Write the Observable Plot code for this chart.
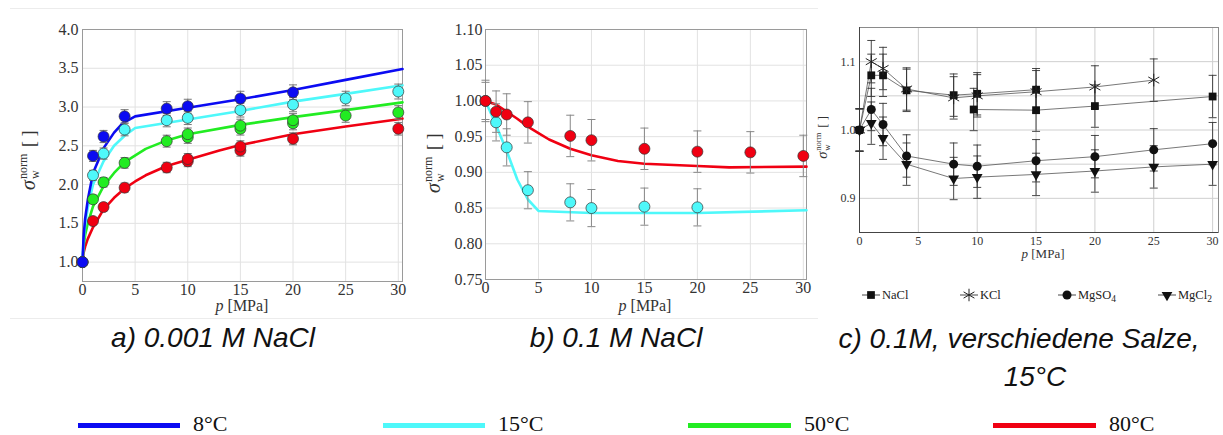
<!DOCTYPE html>
<html><head><meta charset="utf-8">
<script src="https://cdn.jsdelivr.net/npm/d3@7"></script>
<script src="https://cdn.jsdelivr.net/npm/@observablehq/plot@0.6"></script>
<style>
body{margin:0;background:#fff;}
#root{position:relative;width:1223px;height:435px;overflow:hidden;background:#fff;}
.panel{position:absolute;top:0;}
.cap{position:absolute;font-family:"Liberation Sans",Arial,sans-serif;font-style:italic;font-size:28px;line-height:28px;white-space:nowrap;transform:translateX(-50%);color:#111;}
.sep{position:absolute;height:1px;background:#ececec;}
.lg-bar{position:absolute;height:5px;}
.lg-txt{position:absolute;font-family:"Liberation Serif","Times New Roman",serif;font-size:22px;line-height:18px;white-space:nowrap;color:#111;}
</style>
</head><body>
<div id="root"></div>
<script>
// ---------------- data ----------------
const xTicks = [0, 5, 10, 15, 20, 25, 30];
const yTicksA = [1.0, 1.5, 2.0, 2.5, 3.0, 3.5, 4.0];
const yTicksB = [0.75, 0.80, 0.85, 0.90, 0.95, 1.00, 1.05, 1.10];
const yTicksC = [0.9, 1.0, 1.1];
const yGridC = [0.9, 0.95, 1.0, 1.05, 1.1];
const xGridC = [5, 10, 15, 20, 25, 30];

const tempLabels = ["8°C", "15°C", "50°C", "80°C"];
const tempColors = ["#0b0bf2", "#4ef8fa", "#22ec22", "#f00012"];

const captions = ["a) 0.001 M NaCl", "b) 0.1 M NaCl", "c) 0.1M, verschiedene Salze,", "15°C"];
const axisLabelX = "p [MPa]";

// panel a : 0.001 M NaCl, measured points [p, sigma]
const a8  = [[0,1.00],[1,2.37],[2,2.62],[4,2.88],[8,2.98],[10,3.01],[15,3.11],[20,3.19]];
const a15 = [[0,1.00],[1,2.12],[2,2.40],[4,2.71],[8,2.83],[10,2.86],[15,2.96],[20,3.03],[25,3.11],[30,3.20]];
const a50 = [[0,1.00],[1,1.81],[2,2.03],[4,2.28],[8,2.56],[10,2.61],[10,2.65],[15,2.72],[15,2.76],[20,2.79],[20,2.83],[25,2.89],[30,2.93]];
const a80 = [[0,1.00],[1,1.53],[2,1.71],[4,1.96],[8,2.22],[10,2.30],[10,2.33],[15,2.44],[15,2.49],[20,2.59],[30,2.72]];
const aRelErr = 0.03;
// panel a : model curves
const aFit8  = [[0,1.0],[0.1,1.32],[0.25,1.56],[0.5,1.8],[1,2.15],[2,2.47],[3,2.67],[3.8,2.79],[5,2.88],[10,2.99],[15,3.10],[20,3.22],[25,3.35],[30.4,3.49]];
const aFit15 = [[0,1.0],[0.1,1.27],[0.25,1.48],[0.5,1.7],[1,2.0],[2,2.3],[3,2.5],[4,2.63],[5,2.73],[10,2.84],[15,2.95],[20,3.07],[25,3.17],[30.4,3.28]];
const aFit50 = [[0,1.0],[0.1,1.2],[0.25,1.35],[0.5,1.5],[1,1.72],[2,1.98],[3,2.15],[4,2.29],[6,2.46],[8,2.57],[10,2.65],[15,2.77],[20,2.87],[25,2.96],[30.4,3.06]];
const aFit80 = [[0,1.0],[0.1,1.12],[0.25,1.2],[0.5,1.3],[1,1.45],[2,1.68],[3,1.83],[4,1.95],[5,2.04],[6,2.12],[8,2.24],[10,2.32],[13,2.44],[15,2.51],[20,2.65],[25,2.75],[30.4,2.85]];

// panel b : 0.1 M NaCl
const b15 = [[0,1.000],[1,0.970],[2,0.935],[4,0.875],[8,0.858],[10,0.850],[15,0.852],[20,0.851]];
const b80 = [[0,1.000],[1,0.985],[2,0.981],[4,0.970],[8,0.951],[10,0.945],[15,0.933],[20,0.929],[25,0.928],[30,0.923]];
const bErr15 = 0.026;
const bErr80 = 0.029;
const bFit15 = [[0,1.0],[1,0.966],[2,0.93],[3,0.89],[4,0.862],[5,0.846],[10,0.843],[20,0.843],[30.3,0.847]];
const bFit80 = [[0,1.0],[1,0.995],[2,0.985],[3,0.975],[4,0.964],[5,0.955],[6,0.946],[8,0.933],[10,0.924],[12.5,0.916],[15,0.912],[20,0.909],[23,0.907],[30.3,0.908]];

// panel c : 0.1 M, different salts, 15°C
const saltNames = ["NaCl", "KCl", "MgSO4", "MgCl2"];
const cNaCl1 = [[0,1.000],[1,1.080],[2,1.080],[4,1.058],[8,1.051],[10,1.053],[15,1.059]];
const cNaCl2 = [[9.7,1.030],[15,1.029],[20,1.035],[30,1.049]];
const cKCl   = [[0,1.000],[1,1.100],[2,1.090],[4,1.060],[8,1.047],[10,1.050],[15,1.056],[20,1.063],[25,1.073]];
const cMgSO4 = [[0,1.000],[1,1.030],[2,1.008],[4,0.962],[8,0.950],[10,0.947],[15,0.955],[20,0.961],[25,0.971],[30,0.980]];
const cMgCl2 = [[0,1.000],[1,1.010],[2,0.988],[4,0.950],[8,0.929],[10,0.931],[15,0.935],[20,0.940],[25,0.946],[30,0.950]];
const cErr = 0.031;

// ---------------- helpers ----------------
const toObj = (arr, e) => arr.map(([x, y]) => ({x, y, e: typeof e === "function" ? e(x, y) : e}));

function errMarks(data, cap, stroke, sw) {
  return [
    Plot.ruleX(data, {x: "x", y1: d => d.y - d.e, y2: d => d.y + d.e, stroke, strokeWidth: sw}),
    Plot.link(data, {x1: d => d.x - cap, x2: d => d.x + cap, y1: d => d.y + d.e, y2: d => d.y + d.e, stroke, strokeWidth: sw}),
    Plot.link(data, {x1: d => d.x - cap, x2: d => d.x + cap, y1: d => d.y - d.e, y2: d => d.y - d.e, stroke, strokeWidth: sw})
  ];
}

function yLabel(svg, cx, cy, s, color) {
  const g = d3.select(svg).append("g")
    .attr("transform", `translate(${cx},${cy}) rotate(-90)`)
    .attr("text-anchor", "start")
    .attr("font-family", "Liberation Serif, 'Times New Roman', serif")
    .attr("fill", color);
  g.append("text").attr("x", -33 * s).attr("y", 0).attr("font-size", 20 * s).attr("font-style", "italic").text("σ");
  g.append("text").attr("x", -22 * s).attr("y", -8 * s).attr("font-size", 12 * s).text("norm");
  g.append("text").attr("x", -22 * s).attr("y", 4 * s).attr("font-size", 12 * s).text("w");
  g.append("text").attr("x", 10 * s).attr("y", 0).attr("font-size", 18 * s).text("[ ]");
}

function xLabel(svg, cx, y, size, color) {
  const t = d3.select(svg).append("text")
    .attr("x", cx).attr("y", y).attr("text-anchor", "middle")
    .attr("font-family", "Liberation Serif, 'Times New Roman', serif")
    .attr("font-size", size).attr("fill", color);
  t.append("tspan").attr("font-style", "italic").text(axisLabelX.split(" ")[0]);
  t.append("tspan").text(" " + axisLabelX.split(" ").slice(1).join(" "));
}

const root = document.getElementById("root");
function place(el, left, top) {
  const wrap = document.createElement("div");
  wrap.className = "panel";
  wrap.style.left = left + "px";
  wrap.style.top = top + "px";
  wrap.appendChild(el);
  root.appendChild(wrap);
}

// ---------------- panel a ----------------
const aSeries = [a8, a15, a50, a80].map(s => toObj(s, (x, y) => x === 0 ? 0 : aRelErr * y));
const aFits = [aFit8, aFit15, aFit50, aFit80].map(s => toObj(s, 0));
const drawOrder = [3, 2, 1, 0];

const chartA = Plot.plot({
  width: 410, height: 320,
  marginLeft: 82, marginRight: 8, marginTop: 29, marginBottom: 39,
  x: {domain: [0, 30.4]},
  y: {domain: [0.75, 4.0]},
  style: {fontFamily: "Liberation Serif, 'Times New Roman', serif", fontSize: "16px", color: "#333", background: "transparent", overflow: "visible"},
  marks: [
    Plot.gridX(xTicks, {stroke: "#e2e2e2", strokeOpacity: 1}),
    Plot.gridY(yTicksA, {stroke: "#e2e2e2", strokeOpacity: 1}),
    Plot.frame({stroke: "#9a9a9a"}),
    Plot.axisX(xTicks, {tickSize: 0, tickPadding: 2, label: null, tickFormat: d => String(d)}),
    Plot.axisY(yTicksA, {tickSize: 0, tickPadding: 4, label: null, tickFormat: d => d.toFixed(1)}),
    ...drawOrder.map(i => Plot.line(aFits[i], {x: "x", y: "y", stroke: tempColors[i], strokeWidth: 2.6})),
    ...drawOrder.flatMap(i => errMarks(aSeries[i].filter(d => d.e > 0), 0.38, "#777", 1)),
    ...drawOrder.map(i => Plot.dot(aSeries[i], {x: "x", y: "y", r: 5.5, fill: tempColors[i], stroke: "#333", strokeWidth: 0.7}))
  ]
});
yLabel(chartA, 35, 157, 1, "#333");
xLabel(chartA, 242, 311, 16, "#333");
place(chartA, 0, 0);

// ---------------- panel b ----------------
const bS15 = toObj(b15, bErr15), bS80 = toObj(b80, bErr80);
const chartB = Plot.plot({
  width: 410, height: 320,
  marginLeft: 75, marginRight: 14, marginTop: 29, marginBottom: 41,
  x: {domain: [0, 30.3]},
  y: {domain: [0.75, 1.10]},
  style: {fontFamily: "Liberation Serif, 'Times New Roman', serif", fontSize: "16px", color: "#333", background: "transparent", overflow: "visible"},
  marks: [
    Plot.gridX(xTicks, {stroke: "#e2e2e2", strokeOpacity: 1}),
    Plot.gridY(yTicksB, {stroke: "#e2e2e2", strokeOpacity: 1}),
    Plot.frame({stroke: "#9a9a9a"}),
    Plot.axisX(xTicks, {tickSize: 0, tickPadding: 2, label: null, tickFormat: d => String(d)}),
    Plot.axisY(yTicksB, {tickSize: 0, tickPadding: 3, label: null, tickFormat: d => d.toFixed(2)}),
    Plot.line(toObj(bFit15, 0), {x: "x", y: "y", stroke: tempColors[1], strokeWidth: 2.6}),
    Plot.line(toObj(bFit80, 0), {x: "x", y: "y", stroke: tempColors[3], strokeWidth: 2.6}),
    ...errMarks(bS15, 0.38, "#888", 1),
    ...errMarks(bS80, 0.38, "#888", 1),
    Plot.dot(bS15, {x: "x", y: "y", r: 5.5, fill: tempColors[1], stroke: "#333", strokeWidth: 0.7}),
    Plot.dot(bS80, {x: "x", y: "y", r: 5.5, fill: tempColors[3], stroke: "#333", strokeWidth: 0.7})
  ]
});
yLabel(chartB, 30, 160, 1, "#333");
xLabel(chartB, 235, 311, 16, "#333");
place(chartB, 410, 0);

// ---------------- panel c ----------------
const cSets = [
  {data: toObj(cNaCl1, cErr), symbol: "square", r: 4.4},
  {data: toObj(cNaCl2, cErr), symbol: "square", r: 4.4},
  {data: toObj(cKCl, cErr), symbol: "asterisk", r: 6},
  {data: toObj(cMgSO4, cErr), symbol: "circle", r: 4.5},
  {data: toObj(cMgCl2, cErr), symbol: "triangle", r: 4, rotate: 180}
];
const chartC = Plot.plot({
  width: 408, height: 320,
  marginLeft: 44, marginRight: 5, marginTop: 27, marginBottom: 88,
  x: {domain: [0, 30.5]},
  y: {domain: [0.85, 1.15]},
  style: {fontFamily: "Liberation Serif, 'Times New Roman', serif", fontSize: "12px", color: "#333", background: "transparent", overflow: "visible"},
  marks: [
    Plot.gridX(xGridC, {stroke: "#cfcfcf", strokeOpacity: 1}),
    Plot.gridY(yGridC, {stroke: "#cfcfcf", strokeOpacity: 1}),
    Plot.frame({stroke: "#8a8a8a"}),
    Plot.ruleX([0], {stroke: "#444"}),
    Plot.ruleY([0.85], {stroke: "#444"}),
    Plot.axisX(xTicks, {tickSize: 0, tickPadding: 4, label: null, tickFormat: d => String(d)}),
    Plot.axisY(yTicksC, {tickSize: 0, tickPadding: 4, label: null, tickFormat: d => d.toFixed(1)}),
    ...cSets.map(s => Plot.line(s.data, {x: "x", y: "y", stroke: "#555", strokeWidth: 0.8})),
    ...cSets.flatMap(s => errMarks(s.data, 0.34, "#333", 0.9)),
    ...cSets.map(s => s.symbol === "asterisk"
      ? Plot.dot(s.data, {x: "x", y: "y", r: s.r, symbol: s.symbol, stroke: "#222", strokeWidth: 1})
      : Plot.dot(s.data, {x: "x", y: "y", r: s.r, symbol: s.symbol, fill: "#111", stroke: "none", rotate: s.rotate || 0}))
  ]
});
yLabel(chartC, 12, 135, 0.72, "#333");
xLabel(chartC, 228, 258, 13, "#333");

// legend inside panel c
{
  const sel = d3.select(chartC);
  const items = [
    {name: saltNames[0], lx: 47, sym: d3.symbolSquare, size: 60, rot: 0},
    {name: saltNames[1], lx: 145, sym: d3.symbolAsterisk, size: 110, rot: 0, stroke: true},
    {name: saltNames[2], lx: 243, sym: d3.symbolCircle, size: 64, rot: 0},
    {name: saltNames[3], lx: 343, sym: d3.symbolTriangle, size: 50, rot: 180}
  ];
  const y = 295;
  items.forEach(it => {
    const g = sel.append("g").attr("text-anchor", "start");
    g.append("line").attr("x1", it.lx).attr("x2", it.lx + 18).attr("y1", y).attr("y2", y).attr("stroke", "#333").attr("stroke-width", 0.9);
    const p = g.append("path").attr("d", d3.symbol(it.sym, it.size)())
      .attr("transform", `translate(${it.lx + 9},${y}) rotate(${it.rot})`);
    if (it.stroke) p.attr("fill", "none").attr("stroke", "#222").attr("stroke-width", 1);
    else p.attr("fill", "#111");
    const t = g.append("text").attr("x", it.lx + 20).attr("y", y + 4)
      .attr("font-family", "Liberation Serif, 'Times New Roman', serif").attr("font-size", 12.5).attr("fill", "#222");
    const m = it.name.match(/^([A-Za-z]+?)(\d)?$/);
    t.append("tspan").text(m[1]);
    if (m[2]) t.append("tspan").attr("dy", 3).attr("font-size", 9.5).text(m[2]);
  });
}
place(chartC, 815, 0);

// ---------------- separators, captions, legend ----------------
[[10, 8, 808], [10, 318, 808]].forEach(([l, t, w]) => {
  const d = document.createElement("div");
  d.className = "sep"; d.style.left = l + "px"; d.style.top = t + "px"; d.style.width = w + "px";
  root.appendChild(d);
});

[[captions[0], 213, 324], [captions[1], 616, 324], [captions[2], 1019, 325], [captions[3], 1035, 363]].forEach(([txt, cx, top]) => {
  const d = document.createElement("div");
  d.className = "cap"; d.textContent = txt; d.style.left = cx + "px"; d.style.top = top + "px";
  root.appendChild(d);
});

const legendBars = [[78, 180], [383, 485], [688, 791], [993, 1096]];
tempLabels.forEach((lab, i) => {
  const b = document.createElement("div");
  b.className = "lg-bar";
  b.style.left = legendBars[i][0] + "px";
  b.style.width = (legendBars[i][1] - legendBars[i][0]) + "px";
  b.style.top = "423px";
  b.style.background = tempColors[i];
  root.appendChild(b);
  const t = document.createElement("div");
  t.className = "lg-txt";
  t.textContent = lab;
  t.style.left = (legendBars[i][1] + 13) + "px";
  t.style.top = "415px";
  root.appendChild(t);
});
</script>
</body></html>
